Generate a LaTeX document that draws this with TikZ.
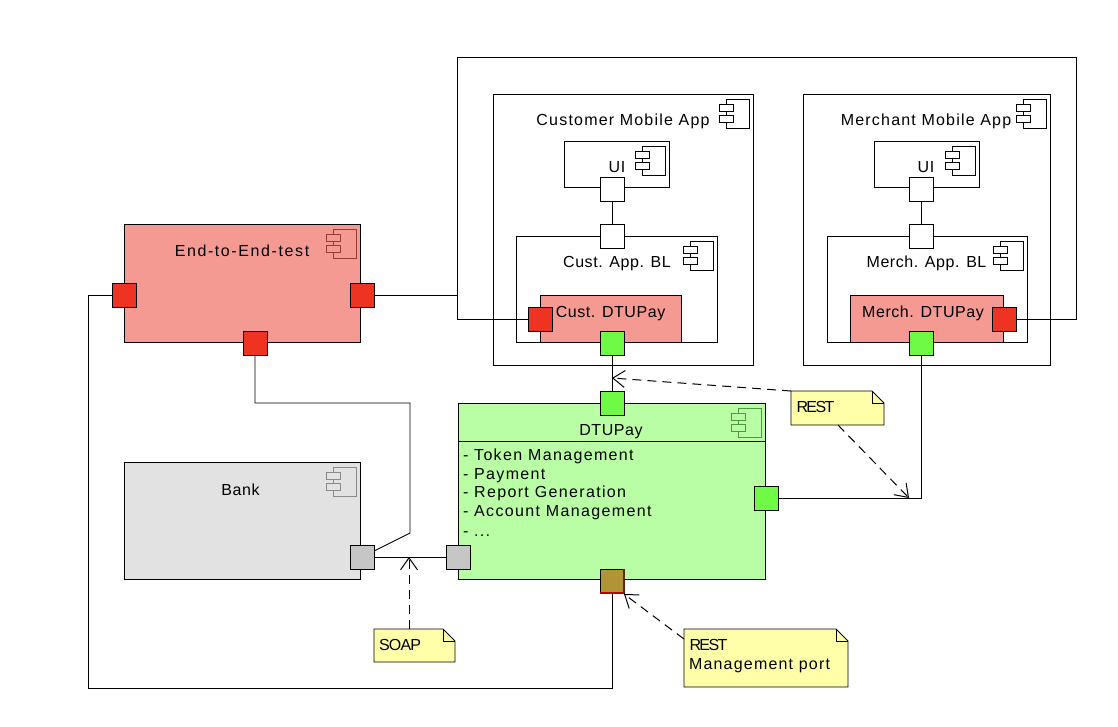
\documentclass[tikz,border=0pt]{standalone}
\usepackage{fontspec}
\setmainfont{Liberation Sans}
\newfontfamily\fa[LetterSpace=7.5]{Liberation Sans}
\newfontfamily\fe[LetterSpace=8.5]{Liberation Sans}
\newfontfamily\fb[LetterSpace=3.5]{Liberation Sans}
\newfontfamily\fc[LetterSpace=-5]{Liberation Sans}
\newfontfamily\ff[LetterSpace=-10]{Liberation Sans}
\newfontfamily\fd[LetterSpace=10]{Liberation Sans}
\usetikzlibrary{arrows.meta}
\definecolor{salmon}{HTML}{F59A93}
\definecolor{portred}{HTML}{EE3322}
\definecolor{lightgreen}{HTML}{B9FDA4}
\definecolor{portgreen}{HTML}{6FFB45}
\definecolor{lightgrey}{HTML}{E2E2E2}
\definecolor{portgrey}{HTML}{C6C6C6}
\definecolor{noteyellow}{HTML}{FFFFAA}
\definecolor{portolive}{HTML}{B09436}
\definecolor{portdark}{HTML}{5A2A10}
\definecolor{linegrey}{HTML}{000000}
\definecolor{iconred}{HTML}{9A3A35}
\definecolor{icongreen}{HTML}{4E9A42}
\definecolor{icongrey}{HTML}{8A8A8A}
\tikzset{
  boxnode/.style={draw=linegrey,line width=0.9pt,inner sep=0pt,outer sep=0pt,anchor=north west},
  portnode/.style={boxnode,minimum width=24pt,minimum height=24pt},
  wire/.style={draw=linegrey,line width=0.9pt},
  notewire/.style={draw=black,line width=1pt,dash pattern=on 9pt off 6pt,-{Straight Barb[length=12pt,width=17pt,line width=1pt]}},
  lbl/.style={inner sep=0pt,outer sep=0pt,anchor=base,font=\fontsize{16}{18}\selectfont},
  lblw/.style={lbl,anchor=base west},
  iconline/.style={line width=0.9pt},
  noteshape/.style={draw=linegrey,line width=0.9pt,fill=noteyellow}
}
% name, x1, y1, x2, y2, fill
\newcommand{\mkbox}[6]{\node[boxnode,fill=#6,minimum width={(#4-#2)*1pt},minimum height={(#5-#3)*1pt}] (#1) at (#2,#3) {};}
% name, node fill, icon colour
\newcommand{\mkicon}[3]{%
  \draw[iconline,draw=#3] (#1.north east) ++(-27,5) rectangle ++(23,29);
  \draw[iconline,draw=#3,fill=#2] (#1.north east) ++(-34,10) rectangle ++(14,7);
  \draw[iconline,draw=#3,fill=#2] (#1.north east) ++(-34,21) rectangle ++(14,7);
}
% name, x, y, fill
\newcommand{\mkport}[4]{\node[portnode,fill=#4] (#1) at (#2,#3) {};}
% name, x1, y1, x2, y2
\newcommand{\mknote}[5]{%
  \node[inner sep=0pt,outer sep=0pt,anchor=north west,minimum width={(#4-#2)*1pt},minimum height={(#5-#3)*1pt}] (#1) at (#2,#3) {};
  \draw[noteshape] (#2,#3) -- (#4-12,#3) -- (#4,#3+12) -- (#4,#5) -- (#2,#5) -- cycle;
  \draw[line width=0.9pt,draw=linegrey] (#4-12,#3) -- (#4-12,#3+12) -- (#4,#3+12);
}
\begin{document}
\begin{tikzpicture}[x=1pt,y=-1pt]
\path[use as bounding box,fill=white] (0,0) rectangle (1118,726);

% Customer mobile app
\mkbox{custapp}{493}{94}{753}{365}{white}
\mkicon{custapp}{white}{linegrey}
\node[lbl] (custapplbl) at (623,125) {\fa Customer Mobile App};
\mkbox{custui}{564}{141}{669}{187}{white}
\mkicon{custui}{white}{linegrey}
\node[lbl] (custuilbl) at (617,172) {\fb UI};
\mkbox{custbl}{516}{236}{717}{342}{white}
\mkicon{custbl}{white}{linegrey}
\node[lbl] (custbllbl) at (617,267) {\fb Cust. App. BL};
\mkbox{custdtu}{540}{295}{681}{342}{salmon}
\node[lbl] (custdtulbl) at (610.5,317) {\fb Cust. DTUPay};
\mkport{custuip}{600}{177}{white}
\mkport{custblp}{600}{224}{white}
\mkport{custred}{528}{307}{portred}
\mkport{custgreen}{600}{331}{portgreen}

% Merchant mobile app
\mkbox{merchapp}{803}{94}{1050}{365}{white}
\mkicon{merchapp}{white}{linegrey}
\node[lbl] (merchapplbl) at (926,125) {\fa Merchant Mobile App};
\mkbox{merchui}{874}{141}{979}{187}{white}
\mkicon{merchui}{white}{linegrey}
\node[lbl] (merchuilbl) at (926,172) {\fb UI};
\mkbox{merchbl}{827}{236}{1027}{342}{white}
\mkicon{merchbl}{white}{linegrey}
\node[lbl] (merchbllbl) at (926.5,267) {\fb Merch. App. BL};
\mkbox{merchdtu}{850}{295}{1003}{342}{salmon}
\node[lbl] (merchdtulbl) at (923,317) {\fb Merch. DTUPay};
\mkport{merchuip}{909}{177}{white}
\mkport{merchblp}{909}{224}{white}
\mkport{merchred}{992}{307}{portred}
\mkport{merchgreen}{909}{331}{portgreen}

% End-to-end test
\mkbox{e2e}{124}{224}{360}{342}{salmon}
\mkicon{e2e}{salmon}{iconred}
\node[lbl] (e2elbl) at (242,256) {\fd End-to-End-test};
\mkport{e2eleft}{112}{283}{portred}
\mkport{e2eright}{350}{283}{portred}
\mkport{e2ebottom}{243}{331}{portred}

% Bank
\mkbox{bank}{124}{462}{360}{579}{lightgrey}
\mkicon{bank}{lightgrey}{icongrey}
\node[lbl] (banklbl) at (240.5,495) {\fb Bank};
\mkport{bankport}{350}{545}{portgrey}

% DTUPay
\mkbox{dtupay}{458}{403}{765}{579}{lightgreen}
\draw[wire] (dtupay.west |- 0,441) -- (dtupay.east |- 0,441);
\mkicon{dtupay}{lightgreen}{icongreen}
\node[lbl] (dtupaylbl) at (611,435) {\fb DTUPay};
\node[lblw] (item1) at (463,460) {\fe - Token Management};
\node[lblw] (item2) at (463,479) {\fe - Payment};
\node[lblw] (item3) at (463,497) {\fe - Report Generation};
\node[lblw] (item4) at (463,516) {\fe - Account Management};
\node[lblw] (item5) at (463,536) {\fe - ...};
\mkport{dtutop}{600}{391}{portgreen}
\mkport{dturight}{754}{486}{portgreen}
\mkport{dtuleft}{446}{545}{portgrey}
\node[portnode,fill=portolive] (dtubottom) at (600,569) {};
\draw[line width=1.2pt,draw=red!75!black] (dtubottom.south west) -- (dtubottom.south east);
\draw[line width=1.2pt,draw=portdark] (dtubottom.north east) -- (dtubottom.south east);

% Notes
\mknote{soapnote}{374}{629}{455}{662}
\node[lblw] (soaplbl) at (379,650) {\fc SOAP};
\mknote{restnote}{791}{391}{884}{425}
\node[lblw] (restlbl) at (796.5,412) {\ff REST};
\mknote{mgmtnote}{684}{629}{848}{687}
\node[lblw] (mgmtlbl1) at (689.5,650) {\ff REST};
\node[lblw] (mgmtlbl2) at (689,669) {\fa Management port};

% Bend points
\coordinate (a) at (457,295);
\coordinate (b) at (457,57);
\coordinate (c) at (1076,57);
\coordinate (d) at (1076,319);
\coordinate (e) at (457,319);
\coordinate (f) at (88,295);
\coordinate (g) at (88,688);
\coordinate (h) at (612,688);
\coordinate (i) at (255,403);
\coordinate (j) at (410,403);
\coordinate (k) at (410,533);
\coordinate (m) at (921,498);
\coordinate (t1) at (612,378);
\coordinate (t2) at (909,498);
\coordinate (t3) at (409,557);
\coordinate (s1) at (409,629);
\coordinate (s2) at (838,425);
\coordinate (s3) at (684,639);
\coordinate (t4) at (624,594);

% Connectors
\draw[wire] (custuip) -- (custblp);
\draw[wire] (merchuip) -- (merchblp);
\draw[wire] (custgreen) -- (dtutop);
\draw[wire] (e2eright.east) -- (a) -- (b) -- (c) -- (d) -- (merchred.east);
\draw[wire] (a) -- (e) -- (custred.west);
\draw[wire] (e2eleft.west) -- (f) -- (g) -- (h) -- (dtubottom.south);
\draw[wire] (e2ebottom.south) -- (i) -- (j) -- (k) -- (bankport.east |- 0,551);
\draw[wire] (bankport.east) -- (dtuleft.west);
\draw[wire] (dturight.east) -- (m) -- (merchgreen.south);

% Note connectors
\draw[notewire] (s1) -- (t3);
\draw[notewire] (restnote.north west) -- (t1);
\draw[notewire] (s2) -- (t2);
\draw[notewire] (s3) -- (t4);
\end{tikzpicture}
\end{document}
